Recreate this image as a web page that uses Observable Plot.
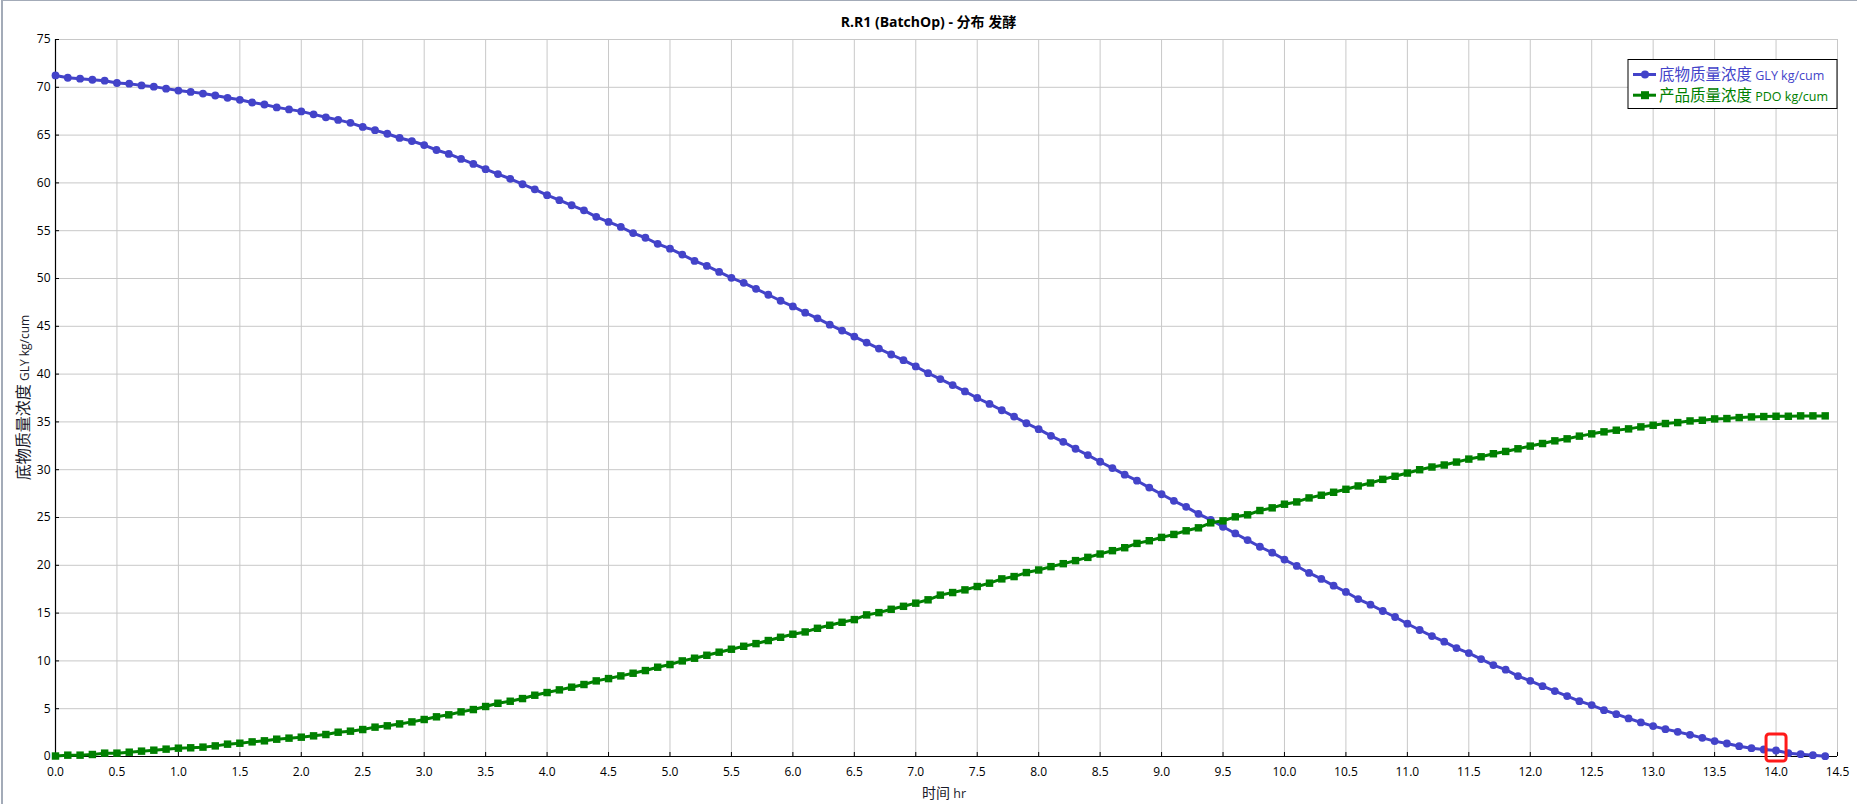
<!DOCTYPE html>
<html>
<head>
<meta charset="utf-8">
<script src="https://cdn.jsdelivr.net/npm/d3@7"></script>
<script src="https://cdn.jsdelivr.net/npm/@observablehq/plot@0.6"></script>
<style>
  html, body { margin: 0; padding: 0; background: #fff; }
  #wrap { position: relative; width: 1857px; height: 804px; overflow: hidden; background: #fff;
          font-family: "Open Sans", "Noto Sans", "Noto Sans CJK SC", sans-serif; }
  #frame { position: absolute; left: 1px; top: 0; width: 1857px; height: 805px;
           border-left: 2px solid #a3abb8; border-top: 1px solid #a3abb8; box-sizing: border-box; pointer-events: none; }
  #title { position: absolute; left: 0; top: 12px; width: 1857px; text-align: center;
           font: bold 14px "Open Sans", "Noto Sans CJK SC", sans-serif; line-height: 20px; color: #000; }
  #chart { position: absolute; left: 0; top: 32px; }
</style>
</head>
<body>
<div id="wrap">
  <div id="title">R.R1 (BatchOp) - 分布 发酵</div>
  <div id="chart"></div>
  <div id="frame"></div>
</div>
<script>
// ---- data ----
const time = [
  0.0,0.1,0.2,0.3,0.4,0.5,0.6,0.7,0.8,0.9,
  1.0,1.1,1.2,1.3,1.4,1.5,1.6,1.7,1.8,1.9,
  2.0,2.1,2.2,2.3,2.4,2.5,2.6,2.7,2.8,2.9,
  3.0,3.1,3.2,3.3,3.4,3.5,3.6,3.7,3.8,3.9,
  4.0,4.1,4.2,4.3,4.4,4.5,4.6,4.7,4.8,4.9,
  5.0,5.1,5.2,5.3,5.4,5.5,5.6,5.7,5.8,5.9,
  6.0,6.1,6.2,6.3,6.4,6.5,6.6,6.7,6.8,6.9,
  7.0,7.1,7.2,7.3,7.4,7.5,7.6,7.7,7.8,7.9,
  8.0,8.1,8.2,8.3,8.4,8.5,8.6,8.7,8.8,8.9,
  9.0,9.1,9.2,9.3,9.4,9.5,9.6,9.7,9.8,9.9,
  10.0,10.1,10.2,10.3,10.4,10.5,10.6,10.7,10.8,10.9,
  11.0,11.1,11.2,11.3,11.4,11.5,11.6,11.7,11.8,11.9,
  12.0,12.1,12.2,12.3,12.4,12.5,12.6,12.7,12.8,12.9,
  13.0,13.1,13.2,13.3,13.4,13.5,13.6,13.7,13.8,13.9,
  14.0,14.1,14.2,14.3,14.4
];
// 底物质量浓度 GLY kg/cum
const gly = [
  71.24,71.00,70.90,70.79,70.69,70.45,70.38,70.20,70.07,69.86,
  69.66,69.52,69.34,69.14,68.90,68.69,68.41,68.20,67.90,67.69,
  67.48,67.17,66.86,66.59,66.28,65.85,65.52,65.14,64.70,64.38,
  63.96,63.44,63.03,62.51,61.99,61.44,60.92,60.43,59.86,59.33,
  58.72,58.19,57.66,57.13,56.45,55.92,55.39,54.75,54.26,53.63,
  53.12,52.50,51.84,51.32,50.69,50.07,49.55,48.92,48.30,47.67,
  47.08,46.42,45.83,45.17,44.55,43.92,43.30,42.67,42.05,41.46,
  40.80,40.10,39.48,38.85,38.19,37.50,36.88,36.22,35.56,34.86,
  34.24,33.54,32.92,32.19,31.53,30.83,30.17,29.48,28.85,28.13,
  27.43,26.74,26.11,25.38,24.76,24.03,23.33,22.64,21.94,21.32,
  20.60,19.93,19.20,18.57,17.87,17.21,16.47,15.88,15.22,14.59,
  13.89,13.23,12.60,12.01,11.34,10.82,10.19,9.56,9.08,8.41,
  7.92,7.36,6.84,6.32,5.79,5.38,4.85,4.43,3.98,3.56,
  3.18,2.86,2.58,2.27,1.95,1.61,1.36,1.08,0.87,0.73,
  0.63,0.35,0.24,0.14,0.03
];
// 产品质量浓度 PDO kg/cum
const pdo = [
  0.05,0.14,0.14,0.21,0.35,0.35,0.45,0.56,0.66,0.77,
  0.87,0.91,0.98,1.11,1.29,1.39,1.53,1.64,1.81,1.92,
  2.02,2.16,2.30,2.54,2.65,2.82,3.07,3.21,3.41,3.62,
  3.87,4.15,4.36,4.67,4.91,5.23,5.57,5.78,6.06,6.41,
  6.69,6.97,7.25,7.53,7.91,8.15,8.43,8.71,8.99,9.34,
  9.62,10.00,10.28,10.59,10.91,11.22,11.53,11.81,12.13,12.47,
  12.79,13.03,13.41,13.73,14.04,14.32,14.81,15.05,15.40,15.71,
  16.04,16.39,16.88,17.15,17.43,17.78,18.13,18.58,18.82,19.24,
  19.51,19.86,20.17,20.49,20.83,21.18,21.53,21.84,22.29,22.57,
  22.92,23.23,23.61,23.92,24.44,24.65,25.07,25.28,25.73,26.01,
  26.39,26.63,27.05,27.33,27.64,27.95,28.30,28.61,28.99,29.31,
  29.65,30.00,30.28,30.49,30.80,31.11,31.35,31.67,31.91,32.19,
  32.47,32.74,33.02,33.23,33.51,33.75,33.96,34.13,34.27,34.48,
  34.65,34.83,34.93,35.10,35.17,35.31,35.35,35.45,35.52,35.56,
  35.59,35.59,35.63,35.63,35.63
];
const xTicks = [0,0.5,1,1.5,2,2.5,3,3.5,4,4.5,5,5.5,6,6.5,7,7.5,8,8.5,9,9.5,10,10.5,11,11.5,12,12.5,13,13.5,14,14.5];
const yTicks = [0,5,10,15,20,25,30,35,40,45,50,55,60,65,70,75];
const seriesNames = ["底物质量浓度", "产品质量浓度"];
const seriesUnits = ["GLY kg/cum", "PDO kg/cum"];
const seriesColors = ["#4343c9", "#008000"];
const highlightTime = [14.0];

// ---- build tables ----
const glyData = time.map((t, i) => ({t, v: gly[i]}));
const pdoData = time.map((t, i) => ({t, v: pdo[i]}));
const hlData = highlightTime.map(t => ({t, v: gly[time.indexOf(t)]}));

const roundedRect = {
  draw(ctx) {
    const w = 10, h = 13.5, r = 3;
    ctx.moveTo(-w + r, -h);
    ctx.lineTo(w - r, -h);
    ctx.arcTo(w, -h, w, -h + r, r);
    ctx.lineTo(w, h - r);
    ctx.arcTo(w, h, w - r, h, r);
    ctx.lineTo(-w + r, h);
    ctx.arcTo(-w, h, -w, h - r, r);
    ctx.lineTo(-w, -h + r);
    ctx.arcTo(-w, -h, -w + r, -h, r);
    ctx.closePath();
  }
};

const W = 1857, H = 772;
const plot = Plot.plot({
  width: W,
  height: H,
  marginLeft: 55,
  marginRight: 20,
  marginTop: 7,
  marginBottom: 48,
  style: {background: "#fff", fontFamily: "'Open Sans', 'Noto Sans', sans-serif", fontSize: "12px", color: "#000", overflow: "visible"},
  x: {domain: [0, 14.5]},
  y: {domain: [0, 75]},
  marks: [
    Plot.gridX(xTicks, {stroke: "#c8c8c8", strokeOpacity: 1, strokeWidth: 1}),
    Plot.gridY(yTicks, {stroke: "#c8c8c8", strokeOpacity: 1, strokeWidth: 1}),
    Plot.axisX(xTicks, {tickSize: -4, tickPadding: 15, tickFormat: d => d.toFixed(1), label: null, fill: "#000", stroke: "#000"}),
    Plot.axisY(yTicks, {tickSize: -4, tickPadding: 9, tickFormat: d => String(d), label: null, fill: "#000", stroke: "#000"}),
    Plot.ruleX([0], {stroke: "#000", strokeWidth: 1.2}),
    Plot.ruleY([0], {stroke: "#000", strokeWidth: 1.2}),
    Plot.line(glyData, {x: "t", y: "v", stroke: seriesColors[0], strokeWidth: 3}),
    Plot.dot(glyData, {x: "t", y: "v", r: 3.9, fill: seriesColors[0], stroke: "none"}),
    Plot.line(pdoData, {x: "t", y: "v", stroke: seriesColors[1], strokeWidth: 3}),
    Plot.dot(pdoData, {x: "t", y: "v", r: 4.2, symbol: "square", fill: seriesColors[1], stroke: "none"}),
    Plot.dot(hlData, {x: "t", y: "v", symbol: roundedRect, fill: "none", stroke: "#ff1a1a", strokeWidth: 3, dy: -3})
  ]
});
document.getElementById("chart").appendChild(plot);

// ---- axis titles & legend (text) ----
const svg = d3.select(plot);
const fam = "'Open Sans', 'Noto Sans CJK SC', sans-serif";

// y axis title
const yl = svg.append("text")
  .attr("transform", `translate(29,${(7 + (H - 48)) / 2}) rotate(-90)`)
  .attr("text-anchor", "middle")
  .attr("fill", "#1a1a2a")
  .style("font-family", fam);
yl.append("tspan").attr("font-size", "16px").text(seriesNames[0]);
yl.append("tspan").attr("font-size", "12px").text(" " + seriesUnits[0]);

// x axis title
const xl = svg.append("text")
  .attr("x", 944)
  .attr("y", H - 6)
  .attr("text-anchor", "middle")
  .attr("fill", "#1a1a2a")
  .style("font-family", fam);
xl.append("tspan").attr("font-size", "14px").text("时间");
xl.append("tspan").attr("font-size", "12.5px").text(" hr");

// legend
const lg = svg.append("g").attr("transform", "translate(1628,27.5)");
lg.append("rect").attr("x", 0).attr("y", 0).attr("width", 209).attr("height", 49)
  .attr("fill", "#fff").attr("stroke", "#000").attr("stroke-width", 1);
[0, 1].forEach(i => {
  const cy = 15 + i * 20.7;
  const row = lg.append("g").attr("transform", `translate(0,${cy})`);
  row.append("line").attr("x1", 5).attr("x2", 28).attr("y1", 0).attr("y2", 0)
    .attr("stroke", seriesColors[i]).attr("stroke-width", 3);
  if (i === 0) {
    row.append("circle").attr("cx", 17).attr("cy", 0).attr("r", 4).attr("fill", seriesColors[i]);
  } else {
    row.append("rect").attr("x", 13).attr("y", -4).attr("width", 8).attr("height", 8).attr("fill", seriesColors[i]);
  }
  const t = row.append("text").attr("x", 31).attr("y", 5.5)
    .attr("text-anchor", "start")
    .attr("fill", seriesColors[i]).style("font-family", fam);
  t.append("tspan").attr("font-size", "15.5px").text(seriesNames[i]);
  t.append("tspan").attr("font-size", "12.5px").text(" " + seriesUnits[i]);
});
</script>
</body>
</html>
